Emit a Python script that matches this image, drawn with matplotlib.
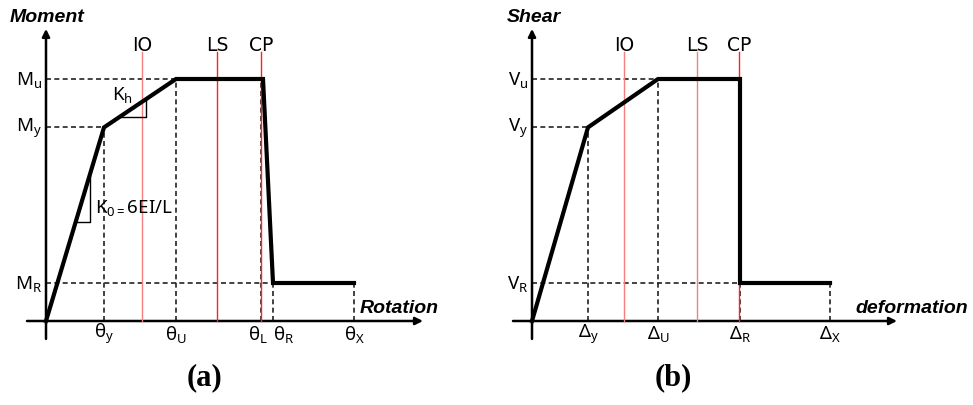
import matplotlib
matplotlib.use("Agg")
import matplotlib.pyplot as plt

plt.rcParams["mathtext.fontset"] = "custom"
plt.rcParams["mathtext.rm"] = "Noto Sans"
plt.rcParams["mathtext.it"] = "Noto Sans:italic"
plt.rcParams["mathtext.bf"] = "Noto Sans:bold"

# (a) moment - rotation backbone (x in arbitrary units, y normalised to Mu)
rot = [0.0, 0.58, 1.30, 2.17, 2.27, 3.08]
moment = [0.0, 0.80, 1.0, 1.0, 0.157, 0.157]
rot_ticks = [0.58, 1.30, 2.15, 2.27, 3.08]
rot_tick_labels = [r"$\mathrm{θ_y}$", r"$\mathrm{θ_U}$", r"$\mathrm{θ_L}$",
                   r"$\mathrm{θ_R}$", r"$\mathrm{θ_X}$"]
rot_label_pos = [0.58, 1.30, 2.12, 2.38, 3.08]
mom_levels = [0.80, 1.0, 0.157]
mom_labels = [r"$\mathrm{M_y}$", r"$\mathrm{M_u}$", r"$\mathrm{M_R}$"]
perf_a = {"IO": 0.96, "LS": 1.71, "CP": 2.15}

# (b) shear - deformation backbone
defo = [0.0, 0.56, 1.26, 2.08, 2.08, 2.98]
shear = [0.0, 0.80, 1.0, 1.0, 0.157, 0.157]
def_ticks = [0.56, 1.26, 2.08, 2.98]
def_tick_labels = [r"$\mathrm{Δ_y}$", r"$\mathrm{Δ_U}$", r"$\mathrm{Δ_R}$",
                   r"$\mathrm{Δ_X}$"]
shear_levels = [0.80, 1.0, 0.157]
shear_labels = [r"$\mathrm{V_y}$", r"$\mathrm{V_u}$", r"$\mathrm{V_R}$"]
perf_b = {"IO": 0.92, "LS": 1.65, "CP": 2.07}

LIGHT = "#f47f7f"
STRONG = "#ff2020"

W, H = 973, 406
fig = plt.figure(figsize=(W / 100, H / 100), dpi=100)

dash = dict(color="#222222", lw=1.2, dashes=(3, 2))
lab_font = dict(fontsize=13.5, color="black")
title_font = dict(fontsize=14, fontweight="bold", fontstyle="italic",
                  family="Liberation Sans")


def setup(ax, x_end):
    ax.set_xlim(-0.46, -0.46 + ax.get_position().width * W / 100)
    ax.set_ylim(-84 / 242, (H - 84) / 242)
    ax.axis("off")
    arrow = dict(arrowstyle="-|>", lw=1.8, color="black",
                 mutation_scale=11, shrinkA=0, shrinkB=0)
    ax.annotate("", xy=(0, 1.207), xytext=(0, -0.074), arrowprops=arrow)
    ax.annotate("", xy=(x_end, 0), xytext=(-0.19, 0), arrowprops=arrow)


def draw_panel(ax, xs, ys, ticks, tick_labels, label_pos, levels, labels,
               perf, colors, ylab, ylab_x, xlab, xlab_x, xlab_ha):
    # guide lines from the y axis to the backbone corners
    corners = [(xs[1], ys[1]), (xs[2], ys[2]), (xs[4], ys[4])]
    for (cx, cy) in corners:
        ax.plot([0, cx], [cy, cy], **dash)
    for t in ticks:
        # vertical guides drop from the backbone down to the x axis
        near = [y for x, y in zip(xs, ys) if abs(x - t) < 0.03]
        top = max(near) if near else 1.0
        ax.plot([t, t], [0, top], **dash)
    for (name, px), c in zip(perf.items(), colors):
        ax.plot([px, px], [0, 1.112], color=c, lw=1.0, zorder=3)
        ax.text(px, 1.143, name, ha="center", va="center", **lab_font)
    ax.plot(xs, ys, color="black", lw=3.0, solid_joinstyle="miter", zorder=4)
    for lv, lb in zip(levels, labels):
        ax.text(-0.04, lv, lb, ha="right", va="center", **lab_font)
    for lp, lb in zip(label_pos, tick_labels):
        ax.text(lp, -0.05, lb, ha="center", va="center", **lab_font)
    ax.text(ylab_x, 1.26, ylab, ha="left", va="center", **title_font)
    ax.text(xlab_x, 0.054, xlab, ha=xlab_ha, va="center", **title_font)


ax_a = fig.add_axes([0, 0, 486 / W, 1])
setup(ax_a, 3.77)
draw_panel(ax_a, rot, moment, rot_ticks, rot_tick_labels, rot_label_pos,
           mom_levels, mom_labels, perf_a, [LIGHT, STRONG, STRONG],
           "Moment", -0.36, "Rotation", 3.14, "left")

# stiffness triangles
slope0 = moment[1] / rot[1]
x_low, x_hi = 0.296, 0.44
ax_a.plot([x_low, x_hi, x_hi], [slope0 * x_low, slope0 * x_low, slope0 * x_hi],
          color="black", lw=1.0, zorder=3)
ax_a.text(0.49, 0.47, r"$\mathrm{K_{0=}6EI/L}$", ha="left", va="center",
          **lab_font)
slope_h = (moment[2] - moment[1]) / (rot[2] - rot[1])
xh0, xh1 = 0.74, 1.00
yh0 = moment[1] + slope_h * (xh0 - rot[1])
yh1 = moment[1] + slope_h * (xh1 - rot[1])
ax_a.plot([xh0, xh1, xh1], [yh0, yh0, yh1], color="black", lw=1.0, zorder=3)
ax_a.text(0.76, 0.94, r"$\mathrm{K_h}$", ha="center", va="center", **lab_font)

ax_b = fig.add_axes([486 / W, 0, (W - 486) / W, 1])
setup(ax_b, 3.65)
draw_panel(ax_b, defo, shear, def_ticks, def_tick_labels, def_ticks,
           shear_levels, shear_labels, perf_b, [LIGHT, LIGHT, STRONG],
           "Shear", -0.25, "deformation", 4.36, "right")

cap = dict(fontsize=22, fontweight="bold", family="Liberation Serif",
           ha="center", va="center")
fig.text(204 / W, 1 - 378 / H, "(a)", **cap)
fig.text(673 / W, 1 - 378 / H, "(b)", **cap)

fig.savefig("out.png", dpi=100)
